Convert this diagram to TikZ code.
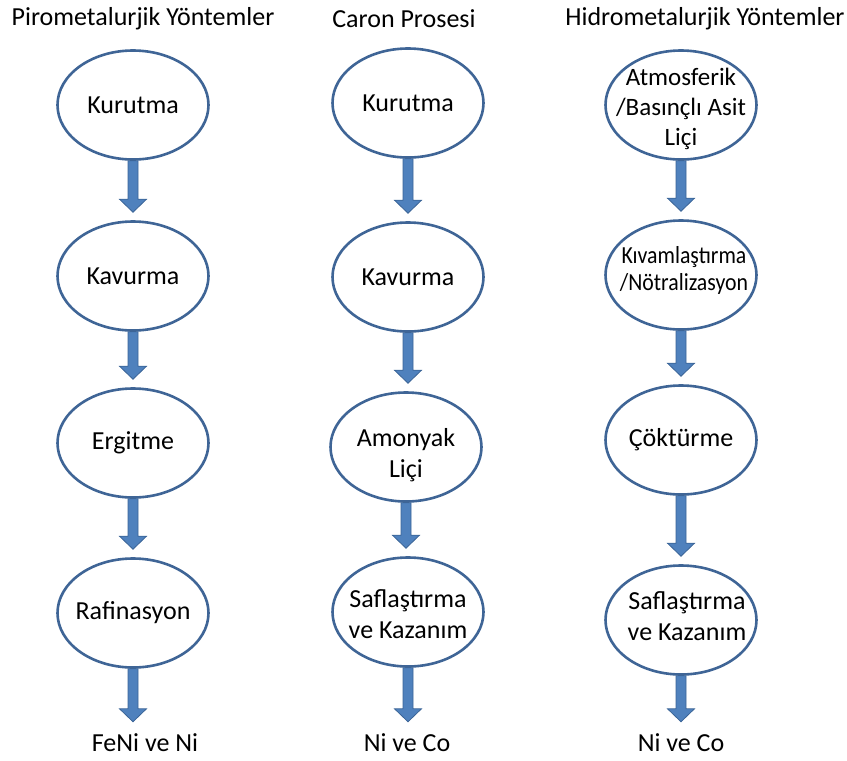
\documentclass[tikz,border=0pt]{standalone}
\usepackage{fontspec}
\setmainfont{Carlito}
\usetikzlibrary{shapes.geometric,calc}
\definecolor{ringc}{HTML}{3F6596}
\definecolor{arrfill}{HTML}{4F81BD}
\definecolor{arrline}{HTML}{3A6497}
\tikzset{
  proc/.style={ellipse,draw=ringc,line width=2.6pt,fill=white,minimum width=151pt,minimum height=109pt,inner sep=0pt},
  txt/.style={font=\fontsize{26}{31}\selectfont,align=center,inner sep=0pt,text=black},
  ttl/.style={font=\fontsize{26}{31}\selectfont,inner sep=0pt,text=black},
  barr/.style={fill=arrfill,draw=arrline,line width=0.8pt,line join=miter}
}
\newcommand\blockarrow[2]{%
  \filldraw[barr] ($(#1)+(-5,0)$) -- ($(#2)+(-5,-13)$) -- ($(#2)+(-13.5,-13)$) -- (#2)
   -- ($(#2)+(13.5,-13)$) -- ($(#2)+(5,-13)$) -- ($(#1)+(5,0)$) -- cycle;}
\begin{document}
\begin{tikzpicture}[x=1pt,y=-1pt]
\useasboundingbox (0,0) rectangle (847,761);
% titles
\node[ttl] (h1) at (143,19) {Pirometalurjik Yöntemler};
\node[ttl] (h2) at (404,19) {Caron Prosesi};
\node[ttl] (h3) at (705,19) {Hidrometalurjik Yöntemler};
% column 1
\node[proc] (a1) at (133,105) {};
\node[proc] (a2) at (133,276) {};
\node[proc] (a3) at (133,443) {};
\node[proc] (a4) at (133,613) {};
\node[txt] (a1t) at (a1) {Kurutma};
\node[txt] (a2t) at (a2) {Kavurma};
\node[txt] (a3t) at (a3) {Ergitme};
\node[txt] (a4t) at (a4) {Rafinasyon};
\node[ttl] (a5) at (145,743) {FeNi ve Ni};
% column 2
\node[proc] (b1) at (408,103) {};
\node[proc] (b2) at (408,277) {};
\node[proc] (b3) at (406,447) {};
\node[proc] (b4) at (408,612) {};
\node[txt] (b1t) at (b1) {Kurutma};
\node[txt] (b2t) at (b2) {Kavurma};
\node[txt] (b3t) at ($(b3)+(0,8)$) {Amonyak\\Liçi};
\node[txt] (b4t) at ($(b4)+(0,2)$) {Saflaştırma\\ve Kazanım};
\node[ttl] (b5) at (407,743) {Ni ve Co};
% column 3
\node[proc] (c1) at (681,105) {};
\node[proc] (c2) at (681,275) {};
\node[proc] (c3) at (681,440) {};
\node[proc] (c4) at (681,620) {};
\node[txt,font=\fontsize{25}{30}\selectfont] (c1t) at ($(c1)+(0,4)$) {Atmosferik\\/Basınçlı Asit\\Liçi};
\node[txt,font=\fontsize{24.5}{27}\selectfont] (c2t) at ($(c2)+(3,-3)$) {\scalebox{0.89}[1]{\begin{tabular}{@{}c@{}}Kıvamlaştırma\\/Nötralizasyon\end{tabular}}};
\node[txt] (c3t) at (c3) {Çöktürme};
\node[txt] (c4t) at ($(c4)+(6,-4)$) {Saflaştırma\\ve Kazanım};
\node[ttl] (c5) at (681,743) {Ni ve Co};
% arrows
\foreach \u/\v in {a1/a2,a2/a3,a3/a4,b1/b2,b2/b3,b3/b4,c1/c2,c2/c3,c3/c4}{
  \blockarrow{\u.south}{$(\u.south |- \v.north)+(0,-8)$}
}
\foreach \u/\v in {a4/a5,b4/b5,c4/c5}{
  \blockarrow{\u.south}{$(\u.south |- \v.north)+(0,-12)$}
}
\end{tikzpicture}
\end{document}
